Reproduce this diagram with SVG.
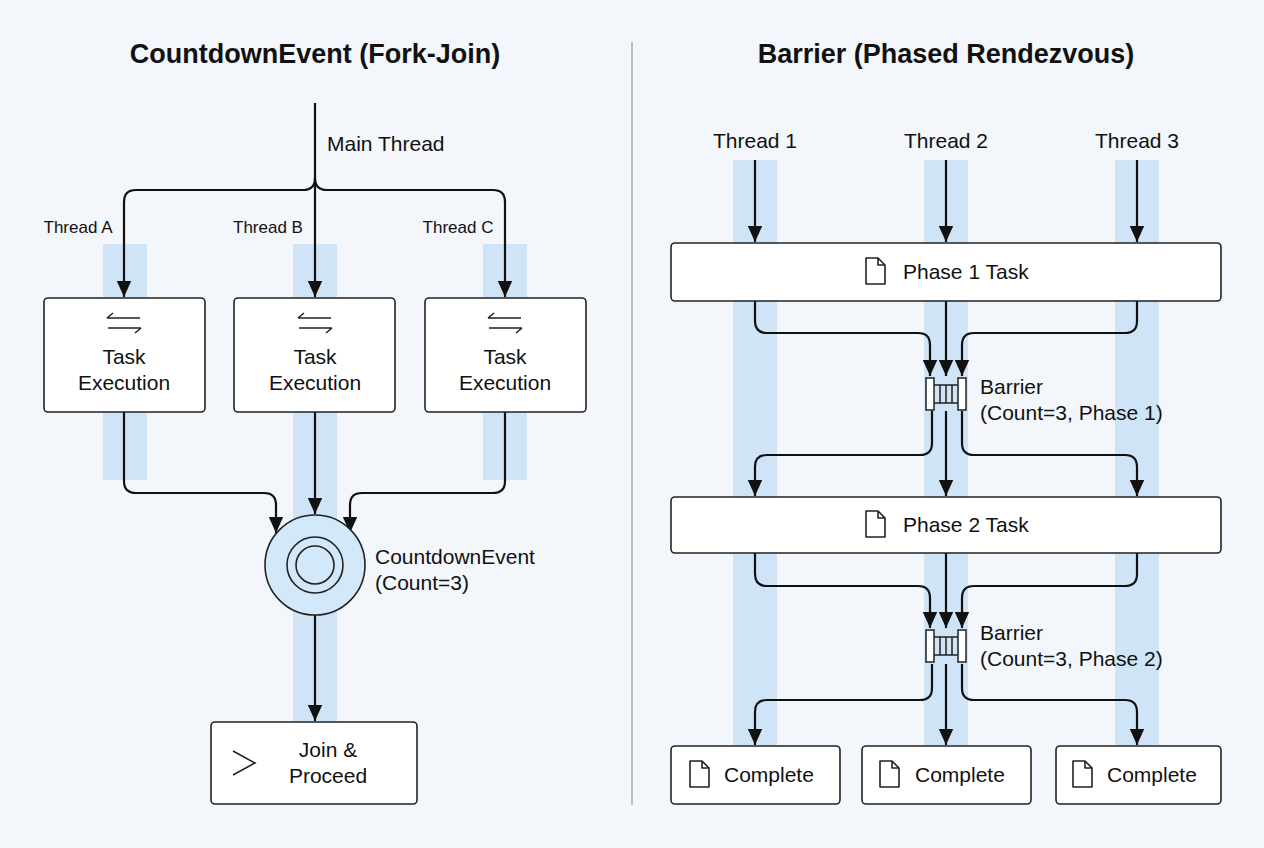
<svg xmlns="http://www.w3.org/2000/svg" width="1264" height="848" viewBox="0 0 1264 848">
<defs>
<marker id="ah" viewBox="0 0 10 10" refX="9" refY="5" markerWidth="7" markerHeight="7" orient="auto" markerUnits="userSpaceOnUse"><path d="M0,0 L10,5 L0,10 z" fill="#111"/></marker>
<marker id="a" viewBox="0 0 10 10" refX="10" refY="5" markerWidth="16" markerHeight="16" orient="auto" markerUnits="userSpaceOnUse"><path d="M0,0.5 L10,5 L0,9.5 z" fill="#111"/></marker>
<g id="page"><path d="M0,0 h12 l7,7 v19 h-19 z M12,0 v7 h7" fill="#fff" stroke="#222" stroke-width="1.6" stroke-linejoin="round"/></g>
<g id="swap"><path d="M-17,-5 h33 M-17,-5 l6,-5 M17,5 h-33 M17,5 l-6,5" fill="none" stroke="#222" stroke-width="1.6"/></g>
<g id="barrier"><rect x="0" y="0" width="8" height="32" fill="#fff" stroke="#222" stroke-width="1.5"/><rect x="32" y="0" width="8" height="32" fill="#fff" stroke="#222" stroke-width="1.5"/><path d="M8,7 h24 M8,25 h24 M14,7 v18 M20,7 v18 M26,7 v18" stroke="#222" stroke-width="1.5" fill="none"/></g>
</defs>
<style>
.t{font-family:"Liberation Sans",Arial,sans-serif;fill:#111}
.h{font-size:27px;font-weight:bold}
.l{font-size:21px}
.s{font-size:17px}
.band{fill:#cfe5f7}
.box{fill:#fff;stroke:#222;stroke-width:1.6}
.c{fill:none;stroke:#111;stroke-width:2.2}
</style>
<rect width="1264" height="848" fill="#f3f6fa"/>
<line x1="632" y1="42" x2="632" y2="805" stroke="#999" stroke-width="1.2"/>
<text class="t h" x="315" y="63" text-anchor="middle">CountdownEvent (Fork-Join)</text>
<text class="t h" x="946" y="63" text-anchor="middle">Barrier (Phased Rendezvous)</text>
<g id="bands">
<rect class="band" x="103" y="244" width="44" height="236"/>
<rect class="band" x="293" y="244" width="44" height="480"/>
<rect class="band" x="483" y="244" width="44" height="236"/>
<rect class="band" x="733" y="160" width="44" height="585"/>
<rect class="band" x="924" y="160" width="44" height="585"/>
<rect class="band" x="1115" y="160" width="44" height="585"/>
</g>
<g id="connectors">
<path class="c" d="M315,103 V178 Q315,190 303,190 H136 Q124,190 124,202 V297" marker-end="url(#a)"/>
<path class="c" d="M315,178 V297" marker-end="url(#a)"/>
<path class="c" d="M315,178 Q315,190 327,190 H493 Q505,190 505,202 V297" marker-end="url(#a)"/>
<path class="c" d="M124,412 V481 Q124,493 136,493 H264 Q276,493 276,505 V533" marker-end="url(#a)"/>
<path class="c" d="M315,412 V514" marker-end="url(#a)"/>
<path class="c" d="M505,412 V481 Q505,493 493,493 H362 Q350,493 350,505 V533" marker-end="url(#a)"/>
<path class="c" d="M315,615 V721" marker-end="url(#a)"/>
<path class="c" d="M755,160 V242" marker-end="url(#a)"/>
<path class="c" d="M946,160 V242" marker-end="url(#a)"/>
<path class="c" d="M1137,160 V242" marker-end="url(#a)"/>
<path class="c" d="M755,301 V321 Q755,333 767,333 H918 Q930,333 930,345 V376" marker-end="url(#a)"/>
<path class="c" d="M946,301 V376" marker-end="url(#a)"/>
<path class="c" d="M1137,301 V321 Q1137,333 1125,333 H974 Q962,333 962,345 V376" marker-end="url(#a)"/>
<path class="c" d="M932,411 V443 Q932,455 920,455 H767 Q755,455 755,467 V496" marker-end="url(#a)"/>
<path class="c" d="M946,411 V496" marker-end="url(#a)"/>
<path class="c" d="M962,411 V443 Q962,455 974,455 H1125 Q1137,455 1137,467 V496" marker-end="url(#a)"/>
<path class="c" d="M755,553 V574 Q755,586 767,586 H918 Q930,586 930,598 V628" marker-end="url(#a)"/>
<path class="c" d="M946,553 V628" marker-end="url(#a)"/>
<path class="c" d="M1137,553 V574 Q1137,586 1125,586 H974 Q962,586 962,598 V628" marker-end="url(#a)"/>
<path class="c" d="M932,664 V688 Q932,700 920,700 H767 Q755,700 755,712 V745" marker-end="url(#a)"/>
<path class="c" d="M946,664 V745" marker-end="url(#a)"/>
<path class="c" d="M962,664 V688 Q962,700 974,700 H1125 Q1137,700 1137,712 V745" marker-end="url(#a)"/>
</g>
<text class="t l" x="327" y="151">Main Thread</text>
<text class="t s" x="78" y="233" text-anchor="middle">Thread A</text>
<text class="t s" x="268" y="233" text-anchor="middle">Thread B</text>
<text class="t s" x="458" y="233" text-anchor="middle">Thread C</text>
<g id="taskA"><rect class="box" x="44" y="298" width="161" height="114" rx="4"/><use href="#swap" x="124" y="323"/><text class="t l" x="124" y="364" text-anchor="middle">Task</text><text class="t l" x="124" y="390" text-anchor="middle">Execution</text></g>
<g id="taskB"><rect class="box" x="234" y="298" width="161" height="114" rx="4"/><use href="#swap" x="315" y="323"/><text class="t l" x="315" y="364" text-anchor="middle">Task</text><text class="t l" x="315" y="390" text-anchor="middle">Execution</text></g>
<g id="taskC"><rect class="box" x="425" y="298" width="161" height="114" rx="4"/><use href="#swap" x="505" y="323"/><text class="t l" x="505" y="364" text-anchor="middle">Task</text><text class="t l" x="505" y="390" text-anchor="middle">Execution</text></g>
<g id="countdown"><circle cx="315" cy="565" r="50" fill="#d3e8f8" stroke="#222" stroke-width="1.6"/><circle cx="315" cy="565" r="28" fill="none" stroke="#222" stroke-width="1.6"/><circle cx="315" cy="565" r="19" fill="none" stroke="#222" stroke-width="1.6"/>
<text class="t l" x="375" y="564">CountdownEvent</text><text class="t l" x="375" y="590">(Count=3)</text></g>
<g id="join"><rect class="box" x="211" y="722" width="206" height="82" rx="4"/><path d="M233,751 l22,12 l-22,12" fill="none" stroke="#222" stroke-width="1.6"/><text class="t l" x="328" y="757" text-anchor="middle">Join &amp;</text><text class="t l" x="328" y="783" text-anchor="middle">Proceed</text></g>
<text class="t l" x="755" y="148" text-anchor="middle">Thread 1</text>
<text class="t l" x="946" y="148" text-anchor="middle">Thread 2</text>
<text class="t l" x="1137" y="148" text-anchor="middle">Thread 3</text>
<g id="phase1"><rect class="box" x="671" y="243" width="550" height="58" rx="4"/><use href="#page" x="866" y="258"/><text class="t l" x="903" y="279">Phase 1 Task</text></g>
<g id="barrier1"><use href="#barrier" x="926" y="378"/><text class="t l" x="980" y="394">Barrier</text><text class="t l" x="980" y="420">(Count=3, Phase 1)</text></g>
<g id="phase2"><rect class="box" x="671" y="497" width="550" height="56" rx="4"/><use href="#page" x="866" y="511"/><text class="t l" x="903" y="532">Phase 2 Task</text></g>
<g id="barrier2"><use href="#barrier" x="926" y="630"/><text class="t l" x="980" y="640">Barrier</text><text class="t l" x="980" y="666">(Count=3, Phase 2)</text></g>
<g id="done1"><rect class="box" x="671" y="746" width="169" height="58" rx="4"/><use href="#page" x="690" y="761"/><text class="t l" x="724" y="782">Complete</text></g>
<g id="done2"><rect class="box" x="862" y="746" width="169" height="58" rx="4"/><use href="#page" x="880" y="761"/><text class="t l" x="915" y="782">Complete</text></g>
<g id="done3"><rect class="box" x="1056" y="746" width="165" height="58" rx="4"/><use href="#page" x="1073" y="761"/><text class="t l" x="1107" y="782">Complete</text></g>
</svg>
